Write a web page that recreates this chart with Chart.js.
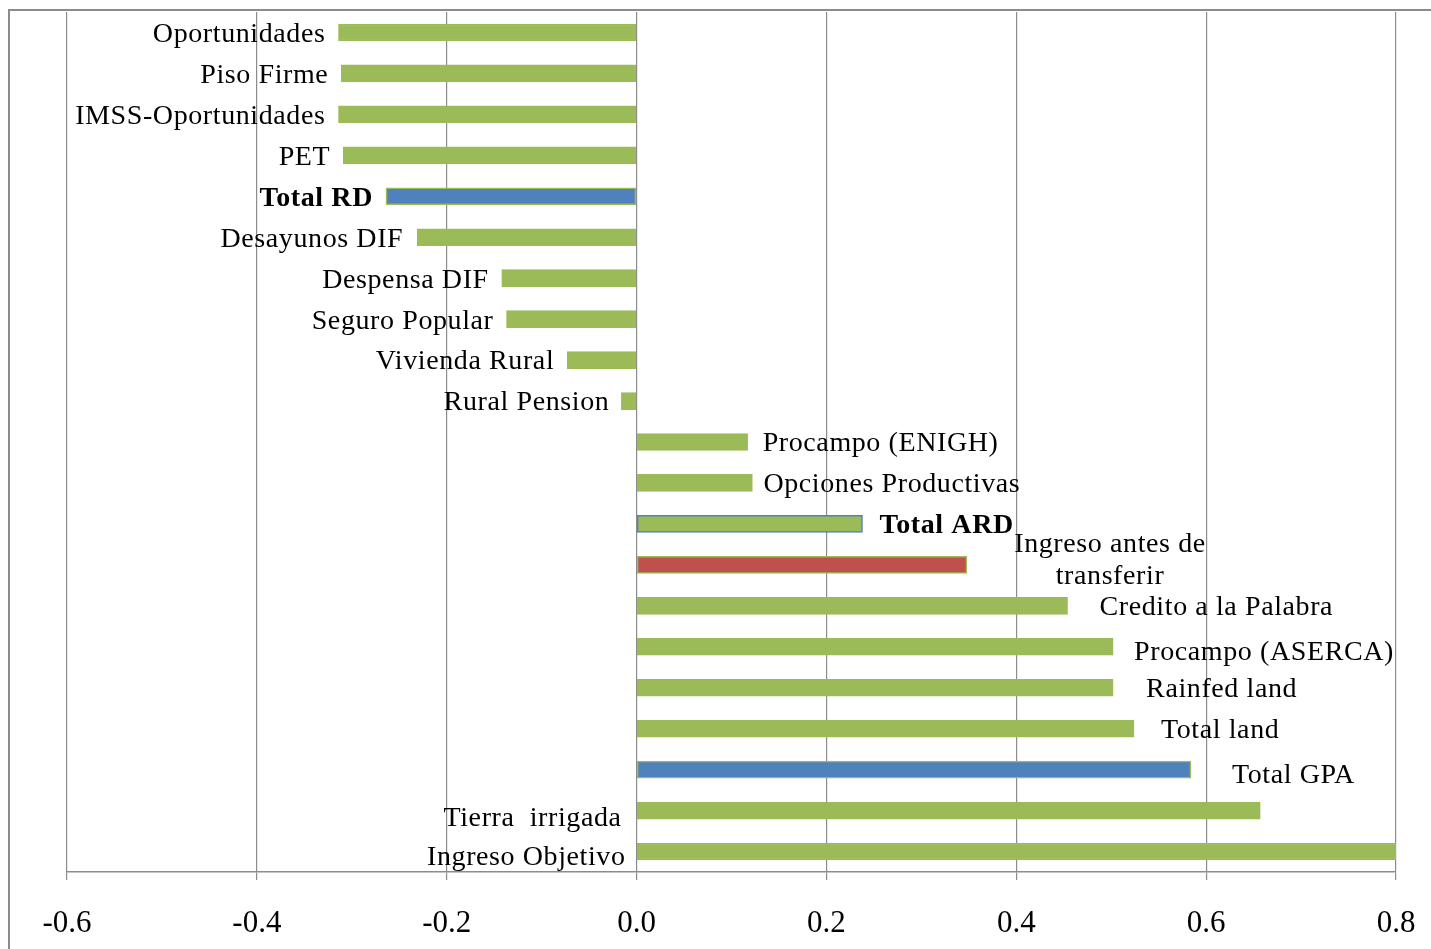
<!DOCTYPE html>
<html>
<head>
<meta charset="utf-8">
<script src="https://cdn.jsdelivr.net/npm/chart.js@4"></script>
<style>
  html, body { margin: 0; padding: 0; background: #fff; }
  #wrap { width: 1431px; height: 949px; position: relative; }
</style>
</head>
<body>
<div id="wrap"><canvas id="c"></canvas></div>
<script>
// programas (de arriba hacia abajo)
const categories = [
    'Oportunidades', 'Piso Firme', 'IMSS-Oportunidades', 'PET', 'Total RD',
    'Desayunos DIF', 'Despensa DIF', 'Seguro Popular', 'Vivienda Rural', 'Rural Pension',
    'Procampo (ENIGH)', 'Opciones Productivas', 'Total ARD', 'Ingreso antes de transferir',
    'Credito a la Palabra', 'Procampo (ASERCA)', 'Rainfed land', 'Total land',
    'Total GPA', 'Tierra  irrigada', 'Ingreso Objetivo'
];

const values = [
    -0.314, -0.311, -0.314, -0.309, -0.264,
    -0.231, -0.142, -0.137, -0.073, -0.016,
    0.117, 0.122, 0.238, 0.348,
    0.454, 0.502, 0.502, 0.524,
    0.584, 0.657, 0.802
];

const xTicks = [-0.6, -0.4, -0.2, 0.0, 0.2, 0.4, 0.6, 0.8];

// grupo de cada barra: p = programa, t = total, i = ingreso
const groups = [
    'p', 'p', 'p', 'p', 't',
    'p', 'p', 'p', 'p', 'p',
    'p', 'p', 'tb', 'i',
    'p', 'p', 'p', 'p',
    't', 'p', 'p'
];

const GREEN = '#9bbb59';
const BLUE = '#4f81bd';
const RED = '#c0504d';
const FONT = "'Liberation Serif', serif";

const fillFor = g => g === 't' ? BLUE : g === 'i' ? RED : GREEN;
const borderFor = g => g === 'tb' ? BLUE : GREEN;

// posición de las etiquetas: at = 'end' (extremo de la barra) o 'base' (junto al cero)
const labelLayout = [
    { dx: -13 }, { dx: -13 }, { dx: -13 }, { dx: -13 }, { dx: -13, bold: true },
    { dx: -14 }, { dx: -13 }, { dx: -13 }, { dx: -13 }, { dx: -12 },
    { dx: 15 }, { dx: 11 }, { dx: 17, bold: true },
    { lines: ['Ingreso antes de', 'transferir'], center: 1110, ys: [-22, 10] },
    { dx: 32 }, { dx: 21, dy: 4 }, { dx: 33 }, { dx: 27 },
    { dx: 41, dy: 4 }, { at: 'base', dx: -15, dy: 6 }, { at: 'base', dx: -11, dy: 4 }
];

const barLabels = {
    id: 'barLabels',
    afterDatasetsDraw(chart) {
        const { ctx } = chart;
        const meta = chart.getDatasetMeta(0);
        const x0 = chart.scales.x.getPixelForValue(0);
        ctx.save();
        ctx.fillStyle = '#000';
        ctx.textBaseline = 'middle';
        ctx.letterSpacing = '0.6px';
        meta.data.forEach((bar, i) => {
            const lay = labelLayout[i];
            const y = bar.y + 2;
            ctx.font = (lay.bold ? 'bold ' : '') + '28px ' + FONT;
            if (lay.lines) {
                ctx.textAlign = 'center';
                lay.lines.forEach((t, k) => ctx.fillText(t, lay.center, y + lay.ys[k]));
                return;
            }
            const base = lay.at === 'base' ? x0 : bar.x;
            const x = base + lay.dx;
            ctx.textAlign = lay.dx < 0 ? 'right' : 'left';
            ctx.fillText(categories[i], x, y + (lay.dy || 0));
        });
        ctx.letterSpacing = '0px';
        ctx.restore();
    }
};

const frame = {
    id: 'frame',
    beforeDraw(chart) {
        const { ctx } = chart;
        ctx.save();
        ctx.strokeStyle = '#8c8c8c';
        ctx.lineWidth = 2;
        ctx.beginPath();
        ctx.moveTo(9, 960);
        ctx.lineTo(9, 10);
        ctx.lineTo(1440, 10);
        ctx.stroke();
        ctx.restore();
    }
};

const ctx = document.getElementById('c').getContext('2d');
new Chart(ctx, {
    type: 'bar',
    data: {
        labels: categories,
        datasets: [{
            data: values,
            backgroundColor: groups.map(fillFor),
            borderColor: groups.map(borderFor),
            borderWidth: 1.5,
            borderSkipped: false,
            barThickness: 17
        }]
    },
    options: {
        indexAxis: 'y',
        responsive: true,
        maintainAspectRatio: false,
        animation: false,
        layout: { padding: { left: 67, right: 35, top: 12, bottom: 0 } },
        plugins: {
            legend: { display: false },
            tooltip: { enabled: false }
        },
        scales: {
            x: {
                type: 'linear',
                min: -0.6,
                max: 0.8,
                afterBuildTicks: scale => {
                    scale.ticks = xTicks.map(v => ({ value: v }));
                },
                afterFit: scale => {
                    scale.height = 77;
                    scale.paddingLeft = 0;
                    scale.paddingRight = 0;
                },
                grid: {
                    color: '#8c8c8c',
                    lineWidth: 1.2,
                    tickLength: 8
                },
                border: { color: '#8c8c8c', width: 1.5 },
                ticks: {
                    color: '#000',
                    padding: 25,
                    maxRotation: 0,
                    font: { size: 31, family: FONT },
                    callback: v => v.toFixed(1)
                }
            },
            y: {
                display: false
            }
        }
    },
    plugins: [frame, barLabels]
});
</script>
</body>
</html>
